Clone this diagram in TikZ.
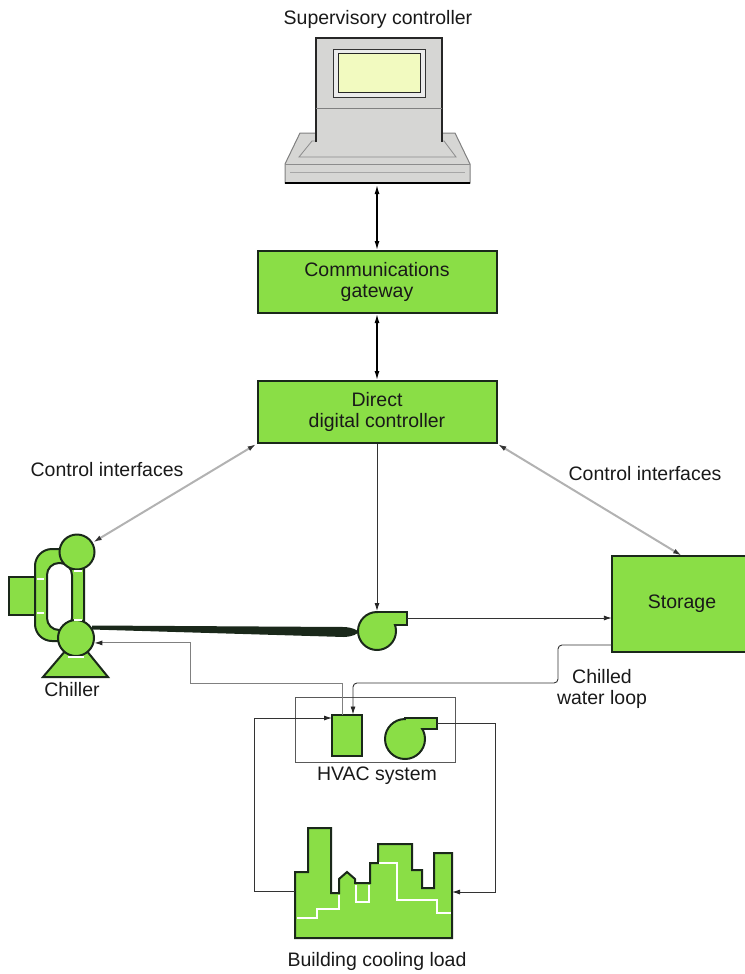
\documentclass[tikz,border=0pt]{standalone}
\usepackage{fontspec}
\setmainfont{Liberation Sans}
\usetikzlibrary{arrows.meta}
\definecolor{leaf}{RGB}{138,222,70}
\definecolor{ink}{RGB}{26,40,26}
\definecolor{casing}{RGB}{214,214,212}
\definecolor{glass}{RGB}{242,250,192}
\begin{document}
\begin{tikzpicture}[x=1pt, y=-1pt,
    txt/.style={font=\fontsize{19.5}{21}\selectfont, align=center, inner sep=0pt, text=black!90},
    panel/.style={txt, draw=ink, line width=2pt, fill=leaf, minimum width=239pt, minimum height=62pt},
    part/.style={draw=ink, line width=2pt, fill=leaf},
    wire/.style={black!80, line width=0.9pt, -{Latex[length=8pt, width=5pt, color=black!85]}},
    duplex/.style={black, line width=1.3pt, {Latex[length=9pt, width=5pt]}-{Latex[length=9pt, width=5pt]}},
    ctrl/.style={black!30, line width=2pt, {Latex[length=9pt, width=5pt, color=black!80]}-{Latex[length=9pt, width=5pt, color=black!80]}},
    joint/.style={white, line width=1.5pt}]
\useasboundingbox (0,0) rectangle (744,974);

\node[txt] (suptitle) at (378,19) {Supervisory controller};
\filldraw[fill=casing, draw=black!50, line width=1pt] (300,133) -- (455,133) -- (470,164) -- (470,183) -- (285,183) -- (285,164) -- cycle;
\draw[black!45, line width=0.8pt] (312,141) -- (444,141) -- (456,157) -- (299,157) -- cycle;
\draw[black!45, line width=0.8pt] (285,164) -- (470,164);
\draw[black!35, line width=0.8pt] (290,172) -- (465,172);
\draw[black, line width=1.6pt] (285,183) -- (470,183);
\filldraw[fill=casing, draw=black!85, line width=1.5pt] (316,142) -- (316,38) -- (442,38) -- (442,142);
\draw[black!50, line width=0.8pt] (316,108) -- (442,108);
\filldraw[fill=black!8, draw=black!80, line width=1pt] (333,50) rectangle (425,97);
\filldraw[fill=glass, draw=black!85, line width=1pt] (338,54) rectangle (420,92);
\coordinate (laptop) at (377,185);

\node[panel] (gateway) at (377,282) {Communications\\gateway};
\node[panel] (ddc) at (377,412) {Direct\\digital controller};
\node[txt] (ctrlleft) at (107,470) {Control interfaces};
\node[txt] (ctrlright) at (645,474) {Control interfaces};

\node[txt, fill=leaf, minimum width=140pt, minimum height=96pt] (storage) at (682,604) {Storage};
\draw[ink, line width=2pt] (storage.north east) -- (storage.north west) -- (storage.south west) -- (storage.south east);

\fill[ink] (92,625.5) -- (344,627) .. controls (353,627.5) and (357,630) .. (359,632) .. controls (357,634) and (353,636.5) .. (344,637) -- (92,629.5) -- cycle;

\filldraw[part] (9,577) rectangle (40,615);
\filldraw[part, rounded corners=17pt] (35,549) rectangle (84,641);
\filldraw[part, fill=white, rounded corners=12pt] (47,563) rectangle (72,630);
\filldraw[part] (43,677) -- (108,677) -- (86,650) -- (66,650) -- cycle;
\node[part, circle, minimum size=35pt, inner sep=0pt] (ctop) at (77,552) {};
\node[part, circle, minimum size=36pt, inner sep=0pt] (cbot) at (76,638) {};
\draw[joint] (37,579) -- (44,579);
\draw[joint] (37,613) -- (44,613);
\draw[joint] (74,571) -- (82,571);
\draw[joint] (74,620) -- (82,620);
\draw[joint] (68,657) -- (84,657);
\node[txt] (chillertxt) at (72,690) {Chiller};

\filldraw[part] (377,612) rectangle (407,624.5);
\node[part, circle, minimum size=38pt, inner sep=0pt] (pump) at (377,631) {};
\fill[leaf] (378,613) rectangle (406,623.5);
\coordinate (pumpout) at (407,618);

\draw[black!65, line width=1pt] (295,697) rectangle (455,762);
\node[part, minimum width=30pt, minimum height=41pt, inner sep=0pt] (coil) at (347,735) {};
\filldraw[part] (405,718) rectangle (437,729);
\filldraw[part] (405,739) circle (20);
\fill[leaf] (406,719) rectangle (436,728);
\node[txt] (hvactxt) at (377,776) {HVAC system};
\coordinate (coilret) at (342,714.5);
\coordinate (coilsup) at (353,714.5);
\coordinate (coilin) at (332,718);
\coordinate (fanout) at (437,723);
\coordinate (storeret) at (612,645);

\filldraw[part] (295,938) -- (295,872) -- (308,872) -- (308,828) -- (331,828) -- (331,893) -- (339,893) -- (339,879) -- (347,872) -- (355,879) -- (355,883) -- (370,883) -- (370,863) -- (378,863) -- (378,844) -- (412,844) -- (412,870) -- (422,870) -- (422,888) -- (434,888) -- (434,853) -- (452,853) -- (452,938) -- cycle;
\draw[joint] (297,918) -- (317,918) -- (317,909) -- (339,909) -- (339,895);
\draw[joint] (356,885) -- (356,902) -- (369,902) -- (369,885);
\draw[joint] (379,863) -- (397,863) -- (397,900) -- (437,900) -- (437,913) -- (451,913);
\coordinate (bldin) at (295,891);
\coordinate (bldout) at (452,892);
\node[txt] (loadtxt) at (377,961) {Building cooling load};
\node[txt] (looptxt) at (602,689) {Chilled\\water loop};

\draw[duplex] (laptop) -- (gateway);
\draw[duplex] (gateway) -- (ddc);
\draw[ctrl] (ctop) -- (ddc.south west);
\draw[ctrl] (ddc.south east) -- (storage.north);
\draw[wire] (ddc) -- (pump);
\draw[wire] (pumpout) -- (pumpout -| storage.west);
\draw[wire, black!50] (coilret) |- (190,683) |- (cbot.-15);
\draw[wire, rounded corners=4pt] (storeret) -| (558,683) -| (coilsup);
\draw[wire] (bldin) -| (254,718) -- (coilin);
\draw[wire] (fanout) -| (495,892) -- (bldout);
\end{tikzpicture}
\end{document}
